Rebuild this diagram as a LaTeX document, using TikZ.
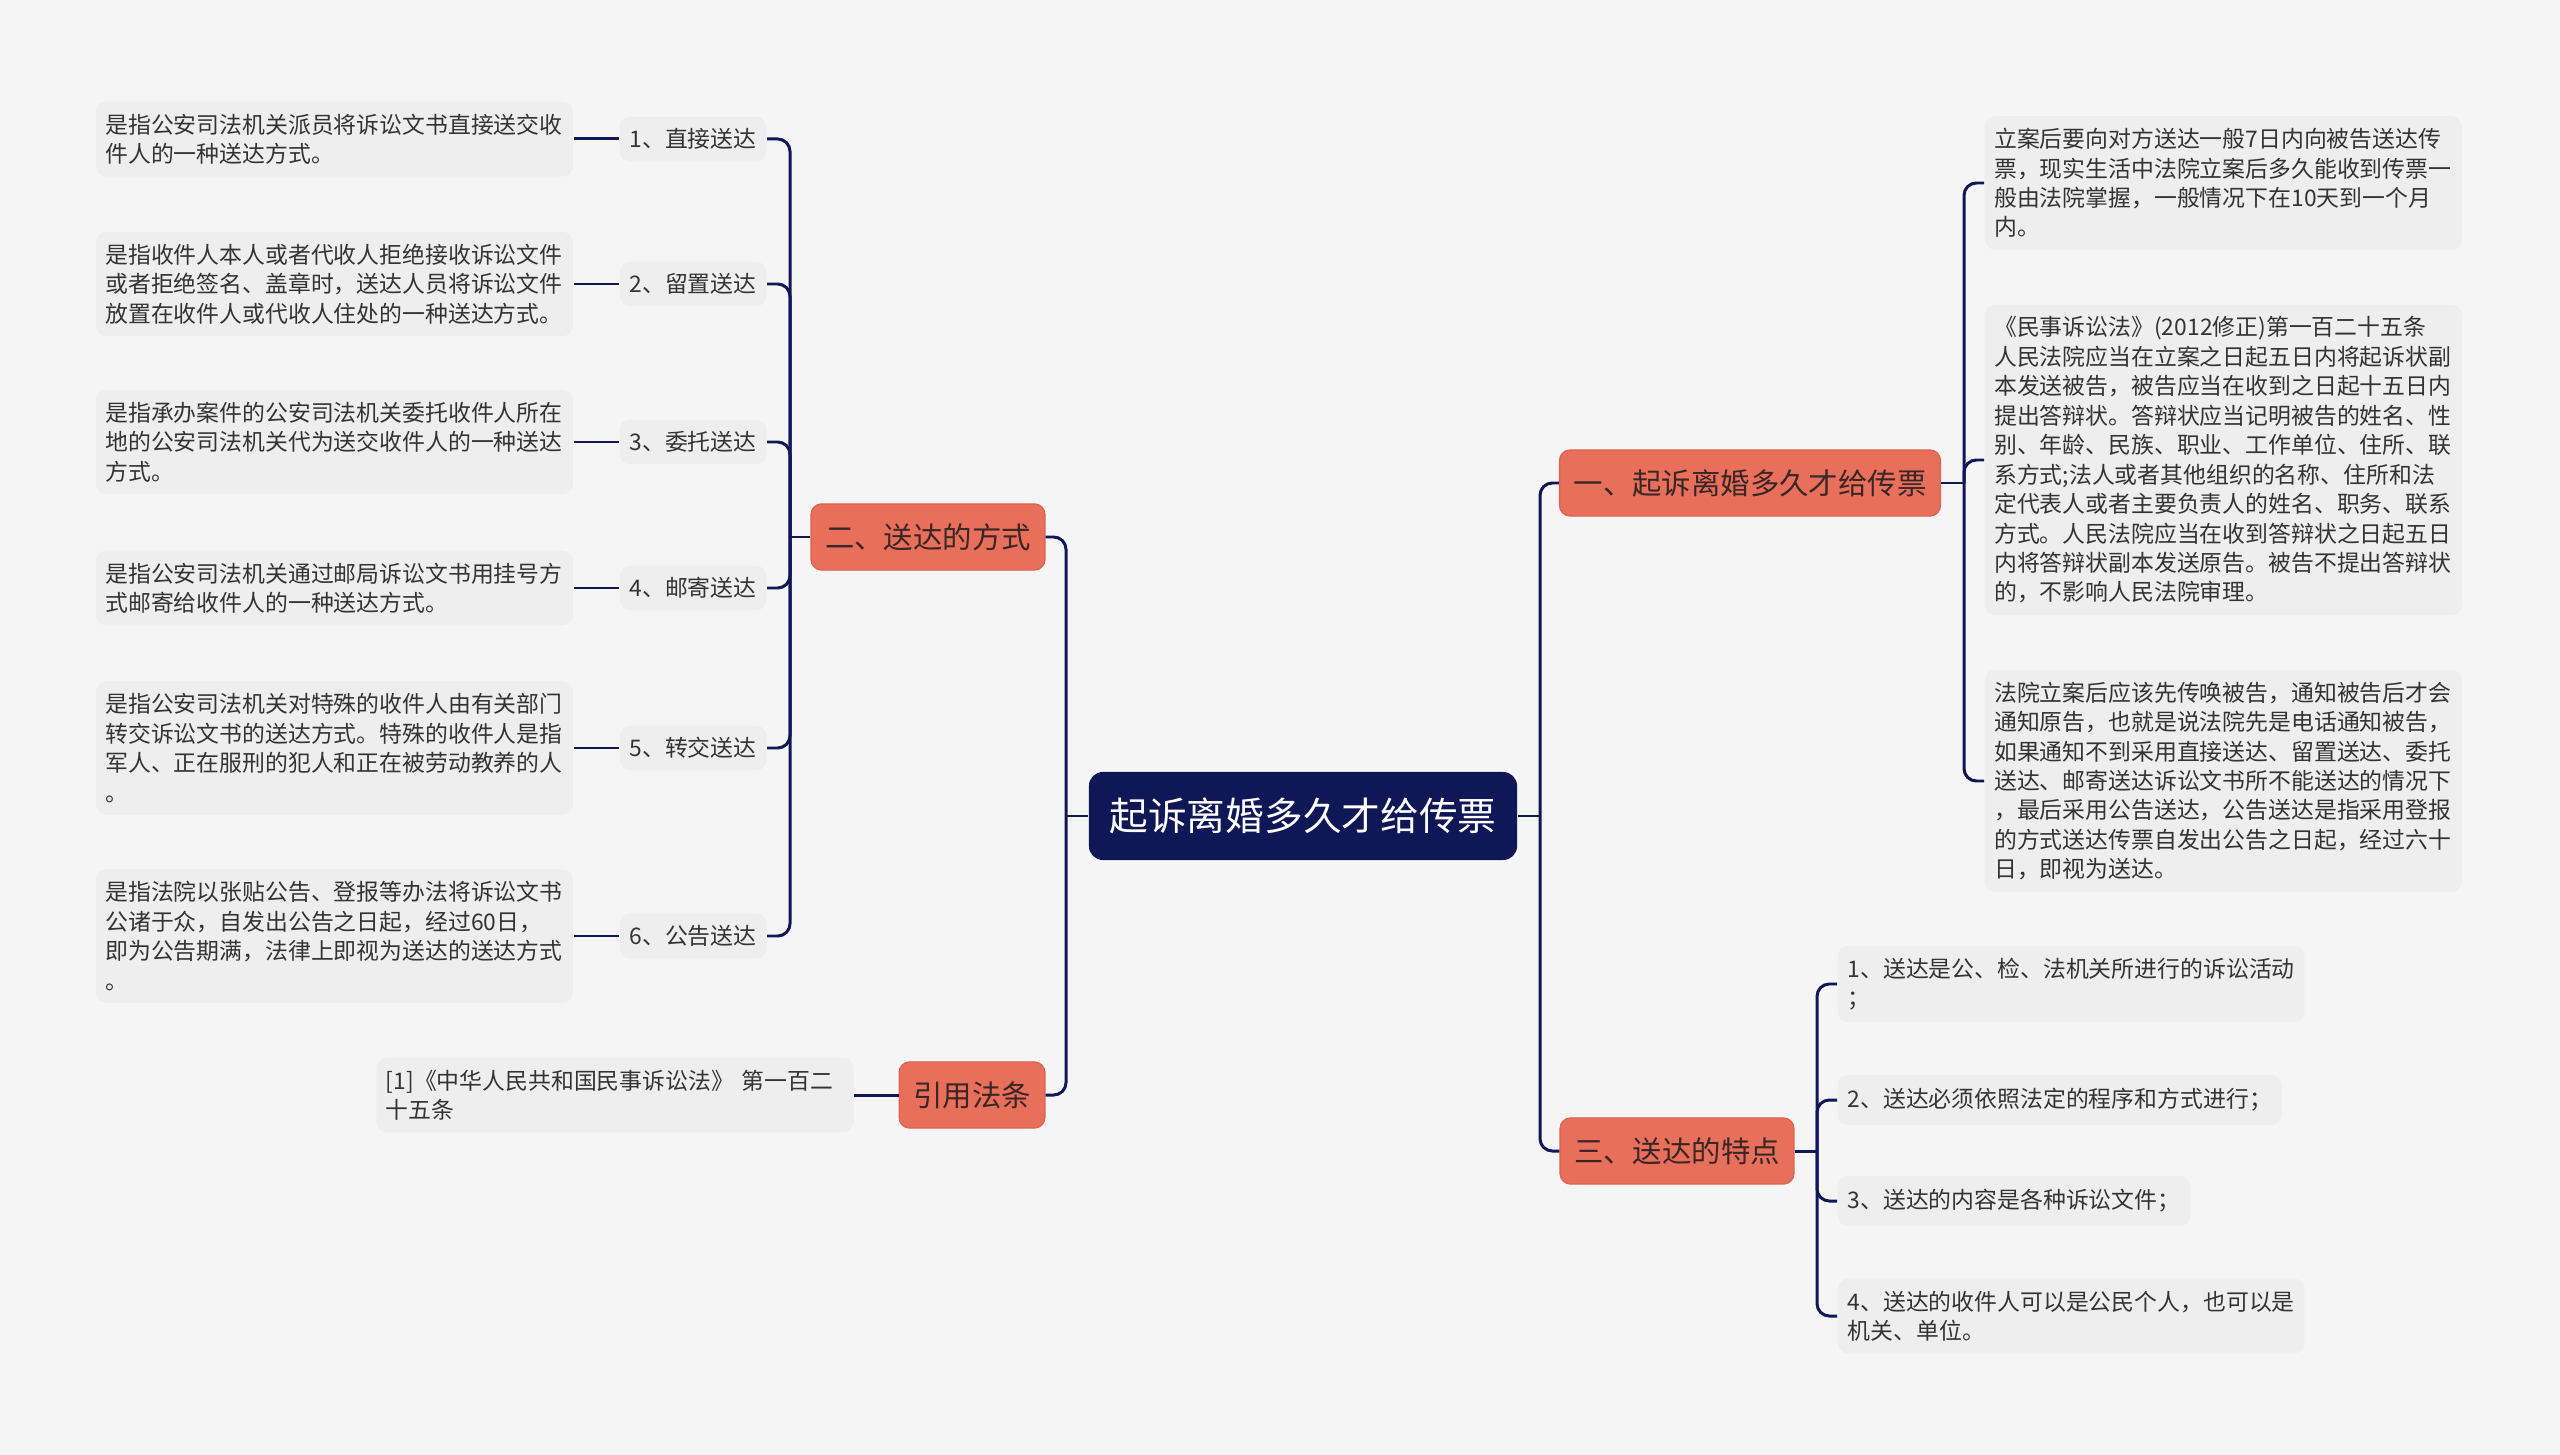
\documentclass[tikz,border=0pt]{standalone}
\usepackage{fontspec}
\setmainfont{Noto Sans CJK SC}
\usetikzlibrary{positioning}
\definecolor{cNavy}{HTML}{0F1757}
\definecolor{cCoral}{HTML}{E8705B}
\definecolor{cCoralEdge}{HTML}{DC6651}
\definecolor{cInk}{HTML}{333333}
\definecolor{cTopicInk}{HTML}{3A2626}
\definecolor{cCard}{HTML}{EEEEEE}
\definecolor{cPaper}{HTML}{F5F5F5}
\newcommand\rootsize{\fontsize{11}{13}\selectfont}
\newcommand\topicsize{\fontsize{8.36}{10}\selectfont}
\newcommand\cardsize{\fontsize{6.5}{8.37}\selectfont}

\begin{document}
\begin{tikzpicture}[x=0.01cm, y=-0.01cm,
   rootbox/.style={fill=cNavy, text=white, rounded corners=4pt,
                   minimum width=4.28cm, minimum height=0.88cm, font=\rootsize},
   topic/.style={fill=cCoral, draw=cCoralEdge, text=cTopicInk, rounded corners=3pt,
                 inner xsep=0.14cm, minimum height=0.66cm, font=\topicsize},
   tag/.style={fill=cCard, text=cInk, rounded corners=3pt, inner xsep=0.1cm,
               minimum height=0.42cm, font=\cardsize},
   card/.style={fill=cCard, text=cInk, rounded corners=3pt, text width=4.58cm,
                align=left, inner xsep=0.095cm, inner ysep=0.12cm, font=\cardsize},
   item/.style={fill=cCard, text=cInk, rounded corners=3pt, align=left,
                inner xsep=0.1cm, inner ysep=0.12cm, minimum height=0.5cm, font=\cardsize},
   link/.style={draw=cNavy, line width=0.85pt, rounded corners=3.5pt}]
  \useasboundingbox[fill=cPaper] (0,0) rectangle (2560,1455);

  \node[rootbox] (root) at (1303,816) {起诉离婚多久才给传票};

  % left: ways of service
  \node[topic] (way)  at (928,537)  {二、送达的方式};
  \node[topic] (cite) at (972,1095) {引用法条};
  \node[tag] (w1) at (693,139) {1、直接送达};
  \node[tag] (w2) at (693,284) {2、留置送达};
  \node[tag] (w3) at (693,442) {3、委托送达};
  \node[tag] (w4) at (693,588) {4、邮寄送达};
  \node[tag] (w5) at (693,748) {5、转交送达};
  \node[tag] (w6) at (693,936) {6、公告送达};
  \node[card, left=0.45cm of w1] (wd1) {是指公安司法机关派员将诉讼文书直接送交收\\件人的一种送达方式。};
  \node[card, left=0.45cm of w2] (wd2) {是指收件人本人或者代收人拒绝接收诉讼文件\\或者拒绝签名、盖章时，送达人员将诉讼文件\\放置在收件人或代收人住处的一种送达方式。};
  \node[card, left=0.45cm of w3] (wd3) {是指承办案件的公安司法机关委托收件人所在\\地的公安司法机关代为送交收件人的一种送达\\方式。};
  \node[card, left=0.45cm of w4] (wd4) {是指公安司法机关通过邮局诉讼文书用挂号方\\式邮寄给收件人的一种送达方式。};
  \node[card, left=0.45cm of w5] (wd5) {是指公安司法机关对特殊的收件人由有关部门\\转交诉讼文书的送达方式。特殊的收件人是指\\军人、正在服刑的犯人和正在被劳动教养的人\\。};
  \node[card, left=0.45cm of w6] (wd6) {是指法院以张贴公告、登报等办法将诉讼文书\\公诸于众，自发出公告之日起，经过60日，\\即为公告期满，法律上即视为送达的送达方式\\。};
  \node[card, left=0.44cm of cite] (citetext) {[1]《中华人民共和国民事诉讼法》 第一百二\\十五条};

  % right: summons and traits
  \node[topic] (when)  at (1750,483)  {一、起诉离婚多久才给传票};
  \node[topic] (trait) at (1677,1151) {三、送达的特点};
  \node[card, anchor=west] (n1) at (1984,183) {立案后要向对方送达一般7日内向被告送达传\\票，现实生活中法院立案后多久能收到传票一\\般由法院掌握，一般情况下在10天到一个月\\内。};
  \node[card, anchor=west] (n2) at (1984,460) {《民事诉讼法》(2012修正)第一百二十五条\\人民法院应当在立案之日起五日内将起诉状副\\本发送被告，被告应当在收到之日起十五日内\\提出答辩状。答辩状应当记明被告的姓名、性\\别、年龄、民族、职业、工作单位、住所、联\\系方式;法人或者其他组织的名称、住所和法\\定代表人或者主要负责人的姓名、职务、联系\\方式。人民法院应当在收到答辩状之日起五日\\内将答辩状副本发送原告。被告不提出答辩状\\的，不影响人民法院审理。};
  \node[card, anchor=west] (n3) at (1984,781) {法院立案后应该先传唤被告，通知被告后才会\\通知原告，也就是说法院先是电话通知被告，\\如果通知不到采用直接送达、留置送达、委托\\送达、邮寄送达诉讼文书所不能送达的情况下\\，最后采用公告送达，公告送达是指采用登报\\的方式送达传票自发出公告之日起，经过六十\\日，即视为送达。};
  \node[item, anchor=west] (t1) at (1837,984)  {1、送达是公、检、法机关所进行的诉讼活动\\；};
  \node[item, anchor=west] (t2) at (1837,1100) {2、送达必须依照法定的程序和方式进行；};
  \node[item, anchor=west] (t3) at (1837,1201) {3、送达的内容是各种诉讼文件；};
  \node[item, anchor=west] (t4) at (1837,1316) {4、送达的收件人可以是公民个人，也可以是\\机关、单位。};

  % branch points
  \coordinate (jl)     at (1066,816);
  \coordinate (jr)     at (1540,816);
  \coordinate (jway)   at (790,537);
  \coordinate (jwhen)  at (1964,483);
  \coordinate (jtrait) at (1817,1151);

  \draw[link] (root.west) -- (jl);
  \draw[link] (jl) |- (way.east);
  \draw[link] (jl) |- (cite.east);
  \draw[link] (root.east) -- (jr);
  \draw[link] (jr) |- (when.west);
  \draw[link] (jr) |- (trait.west);

  \draw[link] (way.west) -- (jway);
  \foreach \n in {1,...,6} {
    \draw[link] (jway) |- (w\n.east);
    \draw[link] (w\n.west) -- (wd\n.east);
  }
  \draw[link] (cite.west) -- (citetext.east);

  \draw[link] (when.east) -- (jwhen);
  \foreach \n in {1,2,3} \draw[link] (jwhen) |- (n\n.west);
  \draw[link] (trait.east) -- (jtrait);
  \foreach \n in {1,...,4} \draw[link] (jtrait) |- (t\n.west);
\end{tikzpicture}
\end{document}
